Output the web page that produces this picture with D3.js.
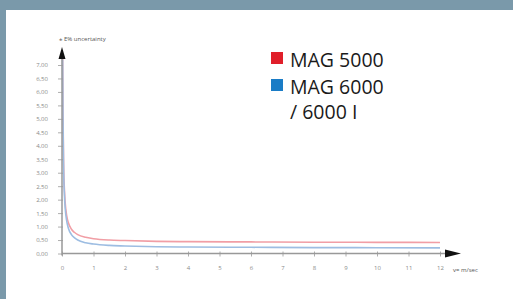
<!DOCTYPE html>
<html>
<head>
<meta charset="utf-8">
<script src="https://cdn.jsdelivr.net/npm/d3@7"></script>
<style>
	body { margin: 0; padding: 0; background: #7a99aa; }
	svg { display: block; }
</style>
</head>
<body>
<svg id="chart" width="513" height="299"></svg>
<script>
// velocity (m/s) vs uncertainty (%)
var mag5000V = [0.02, 0.03, 0.05, 0.08, 0.1, 0.15, 0.2, 0.3, 0.4, 0.5, 0.75, 1, 1.5, 2, 3, 4, 6, 8, 10, 12];
var mag5000E = [7.4, 5.4, 3.4, 2.3, 1.9, 1.4, 1.15, 0.9, 0.78, 0.7, 0.6, 0.55, 0.5, 0.48, 0.45, 0.44, 0.43, 0.42, 0.415, 0.41];
var mag6000V = [0.02, 0.03, 0.05, 0.08, 0.1, 0.15, 0.2, 0.3, 0.4, 0.5, 0.75, 1, 1.5, 2, 3, 4, 6, 8, 10, 12];
var mag6000E = [7.2, 5.2, 3.2, 2.1, 1.7, 1.2, 0.95, 0.7, 0.58, 0.5, 0.4, 0.35, 0.3, 0.28, 0.25, 0.24, 0.23, 0.22, 0.215, 0.21];
var xTicks = [0, 1, 2, 3, 4, 5, 6, 7, 8, 9, 10, 11, 12];
var yTicks = [0, 0.5, 1, 1.5, 2, 2.5, 3, 3.5, 4, 4.5, 5, 5.5, 6, 6.5, 7];
var legendNames = ["MAG 5000", "MAG 6000"];
var legendColors = ["#e01f2a", "#1a7cc6"];
var curveColors = ["#f19ea5", "#9dbde2"];

function draw() {
	var svg = d3.select("#chart");

	// white panel inside the frame
	svg.append("rect")
		.attr("x", 6).attr("y", 10)
		.attr("width", 507).attr("height", 289)
		.attr("fill", "#ffffff");

	var x = d3.scaleLinear().domain([0, 12]).range([62, 440]);
	var y = d3.scaleLinear().domain([0, 7]).range([253.5, 65]);

	// curves
	var series = [
		{ v: mag5000V, e: mag5000E, color: curveColors[0] },
		{ v: mag6000V, e: mag6000E, color: curveColors[1] }
	];
	var line = d3.line()
		.x(function(d) { return x(d[0]); })
		.y(function(d) { return y(d[1]); })
		.curve(d3.curveMonotoneX);
	svg.selectAll("path.curve")
		.data(series)
		.enter()
		.append("path")
		.attr("class", "curve")
		.attr("d", function(d) { return line(d3.zip(d.v, d.e)); })
		.attr("fill", "none")
		.attr("stroke", function(d) { return d.color; })
		.attr("stroke-width", 1.6);

	// axes
	var xAxis = d3.axisBottom(x).tickValues(xTicks).tickSize(0).tickPadding(12)
		.tickFormat(function(d) { return d; });
	var gx = svg.append("g").attr("transform", "translate(0," + y(0) + ")").call(xAxis);
	gx.select(".domain").remove();
	gx.selectAll("text").attr("fill", "#8a8a8a").style("font", "6px 'Open Sans'");
	gx.selectAll(".tick").append("line")
		.attr("y1", -2).attr("y2", 3)
		.attr("stroke", "#999").attr("stroke-width", 0.8);

	var yAxis = d3.axisLeft(y).tickValues(yTicks).tickSize(0).tickPadding(14)
		.tickFormat(function(d) { return d3.format(".2f")(d).replace(".", ","); });
	var gy = svg.append("g").attr("transform", "translate(" + x(0) + ",0)").call(yAxis);
	gy.select(".domain").remove();
	gy.selectAll("text").attr("fill", "#8a8a8a").style("font", "6px 'Open Sans'");
	gy.selectAll(".tick").append("line")
		.attr("x1", -4).attr("x2", 1)
		.attr("stroke", "#999").attr("stroke-width", 0.8);

	// axis lines with arrows
	svg.append("line")
		.attr("x1", x(0)).attr("y1", y(0)).attr("x2", 447).attr("y2", y(0))
		.attr("stroke", "#999").attr("stroke-width", 1.5);
	svg.append("line")
		.attr("x1", x(0)).attr("y1", y(0) + 2).attr("x2", x(0)).attr("y2", 56)
		.attr("stroke", "#999").attr("stroke-width", 1.5);
	svg.append("path")
		.attr("d", "M" + 445 + "," + (y(0) - 4) + "L" + 461 + "," + y(0) + "L" + 445 + "," + (y(0) + 4) + "Z")
		.attr("fill", "#111");
	svg.append("path")
		.attr("d", "M" + (x(0) - 3.5) + ",59L" + x(0) + ",47L" + (x(0) + 3.5) + ",59Z")
		.attr("fill", "#111");

	svg.append("text")
		.attr("x", 59).attr("y", 41)
		.attr("fill", "#555")
		.style("font", "6px 'Open Sans'")
		.text("± E% uncertainty");
	svg.append("text")
		.attr("x", 453).attr("y", 272)
		.attr("fill", "#555")
		.style("font", "6px 'Open Sans'")
		.text("v= m/sec");

	// legend
	var legend = svg.selectAll("g.legend")
		.data(legendNames)
		.enter()
		.append("g")
		.attr("class", "legend")
		.attr("transform", function(d, i) { return "translate(271," + (52 + i * 27) + ")"; });
	legend.append("rect")
		.attr("width", 12).attr("height", 12)
		.attr("fill", function(d, i) { return legendColors[i]; });
	legend.append("text")
		.attr("x", 19).attr("y", 14.5)
		.attr("fill", "#1a1a1a")
		.style("font", "19.5px 'Open Sans'")
		.text(function(d) { return d; });
	svg.append("text")
		.attr("x", 290).attr("y", 119)
		.attr("fill", "#1a1a1a")
		.style("font", "19.5px 'Open Sans'")
		.text("/ 6000 I");
}

draw();
</script>
</body>
</html>
